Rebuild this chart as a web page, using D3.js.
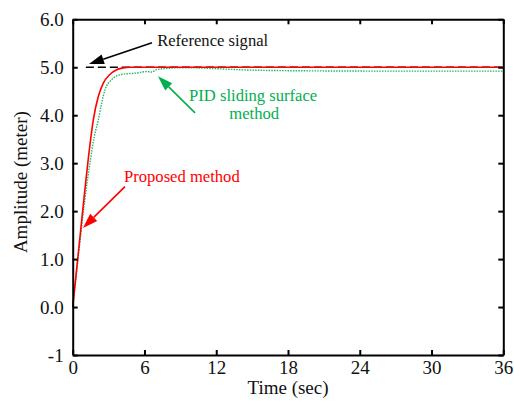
<!DOCTYPE html>
<html>
<head>
<meta charset="utf-8">
<script src="https://cdn.jsdelivr.net/npm/d3@7"></script>
<style>
  html, body { margin: 0; padding: 0; background: #fff; }
  svg { display: block; font-family: "Liberation Serif", "Times New Roman", serif; }
</style>
</head>
<body>
<svg id="chart" width="514" height="401"></svg>
<script>
// Step response: time (s) and amplitude (m)
const proposedTime  = [0, 0.5, 1.0, 1.4, 1.72, 2.14, 2.56, 3.11, 3.67, 4.2, 4.78, 6, 12, 24, 36];
const proposedValue = [0, 1.2, 2.4, 3.3, 3.9, 4.39, 4.67, 4.85, 4.95, 4.985, 5.0, 5.0, 5.0, 5.0, 5.0];

const pidTime  = [0, 0.5, 1.0, 1.5, 1.8, 2.14, 2.42, 2.7, 3.25, 4.09, 5.34, 6.17, 6.6, 7.0, 8.1, 9.0, 10.5, 12, 15, 20, 26, 36];
const pidValue = [0, 1.12, 2.2, 3.1, 3.55, 3.9, 4.25, 4.53, 4.74, 4.85, 4.88, 4.91, 4.9, 4.95, 4.98, 4.99, 4.985, 4.97, 4.94, 4.925, 4.92, 4.92];

const referenceTime  = [1.1, 36];
const referenceValue = [5.0, 5.0];

const xTicks = [0, 6, 12, 18, 24, 30, 36];
const yTicks = [6, 5, 4, 3, 2, 1, 0, -1];
const yTickLabels = ["6.0", "5.0", "4.0", "3.0", "2.0", "1.0", "0.0", "-1"];

const width = 514, height = 401;
const margin = { top: 19.3, right: 10.7, bottom: 46, left: 72.7 };
const innerW = width - margin.left - margin.right;
const innerH = height - margin.top - margin.bottom;

const svg = d3.select("#chart");
const g = svg.append("g").attr("transform", `translate(${margin.left},${margin.top})`);

const x = d3.scaleLinear().domain([0, 36]).range([0, innerW]);
const y = d3.scaleLinear().domain([-1, 6]).range([innerH, 0]);

const toPts = (ts, vs) => ts.map((t, i) => [t, vs[i]]);
const line = d3.line().x(d => x(d[0])).y(d => y(d[1])).curve(d3.curveMonotoneX);

// Curves
g.append("path")
  .datum(toPts(referenceTime, referenceValue))
  .attr("d", line)
  .attr("fill", "none")
  .attr("stroke", "#000")
  .attr("stroke-width", 1.3)
  .attr("stroke-dasharray", "8,4");

g.append("path")
  .datum(toPts(pidTime, pidValue))
  .attr("d", line)
  .attr("fill", "none")
  .attr("stroke", "#1dbb62")
  .attr("stroke-width", 1.4)
  .attr("stroke-dasharray", "1.5,1.2");

g.append("path")
  .datum(toPts(proposedTime, proposedValue))
  .attr("d", line)
  .attr("fill", "none")
  .attr("stroke", "#ff0000")
  .attr("stroke-width", 1.6);

// Axes: ticks point inward on all four sides
const fontSize = 19;
const yFmt = d => yTickLabels[yTicks.indexOf(d)];

function styleAxis(sel) {
  sel.select(".domain").attr("stroke", "#000").attr("stroke-width", 2);
  sel.selectAll(".tick line").attr("stroke", "#000").attr("stroke-width", 2);
  sel.selectAll(".tick text").attr("fill", "#111").style("font-size", fontSize + "px")
     .style("font-family", '"Liberation Serif", "Times New Roman", serif');
}

g.append("g")
  .attr("transform", `translate(0,${innerH})`)
  .call(d3.axisBottom(x).tickValues(xTicks).tickFormat(d3.format("d"))
        .tickSizeInner(-5).tickSizeOuter(0).tickPadding(6))
  .call(styleAxis);

g.append("g")
  .call(d3.axisLeft(y).tickValues(yTicks).tickFormat(yFmt)
        .tickSizeInner(-5).tickSizeOuter(0).tickPadding(9))
  .call(styleAxis);

g.append("g")
  .call(d3.axisTop(x).tickValues(xTicks).tickFormat("")
        .tickSizeInner(-5).tickSizeOuter(0))
  .call(styleAxis);

g.append("g")
  .attr("transform", `translate(${innerW},0)`)
  .call(d3.axisRight(y).tickValues(yTicks).tickFormat("")
        .tickSizeInner(-5).tickSizeOuter(0))
  .call(styleAxis);

// Axis titles
svg.append("text")
  .attr("x", margin.left + innerW / 2)
  .attr("y", 394)
  .attr("text-anchor", "middle")
  .attr("fill", "#111")
  .style("font-size", "19px")
  .text("Time (sec)");

svg.append("text")
  .attr("transform", `translate(27,${margin.top + innerH / 2 - 5}) rotate(-90)`)
  .attr("text-anchor", "middle")
  .attr("fill", "#111")
  .style("font-size", "19px")
  .text("Amplitude (meter)");

// Annotations (positions in data units)
function arrow(from, to, color) {
  const x1 = x(from[0]), y1 = y(from[1]);
  const x2 = x(to[0]), y2 = y(to[1]);
  const ang = Math.atan2(y2 - y1, x2 - x1);
  const len = 15, half = 5;
  const bx = x2 - len * Math.cos(ang), by = y2 - len * Math.sin(ang);
  g.append("line")
    .attr("x1", x1).attr("y1", y1).attr("x2", bx).attr("y2", by)
    .attr("stroke", color).attr("stroke-width", 1.6);
  const px = -Math.sin(ang) * half, py = Math.cos(ang) * half;
  g.append("path")
    .attr("d", `M${x2},${y2}L${bx + px},${by + py}L${bx - px},${by - py}Z`)
    .attr("fill", color);
}

function label(pos, text, color, anchor) {
  g.append("text")
    .attr("x", x(pos[0])).attr("y", y(pos[1]))
    .attr("text-anchor", anchor || "start")
    .attr("fill", color)
    .style("font-size", "16.6px")
    .text(text);
}

arrow([6.63, 5.51], [1.36, 5.07], "#000");
label([7.06, 5.45], "Reference signal", "#111");

arrow([10.23, 4.05], [7.13, 4.81], "#00b050");
label([9.73, 4.29], "PID sliding surface", "#00b050");
label([15.17, 3.92], "method", "#00b050", "middle");

arrow([4.37, 2.51], [0.86, 1.65], "#ff0000");
label([4.29, 2.61], "Proposed method", "#ff0000");
</script>
</body>
</html>
